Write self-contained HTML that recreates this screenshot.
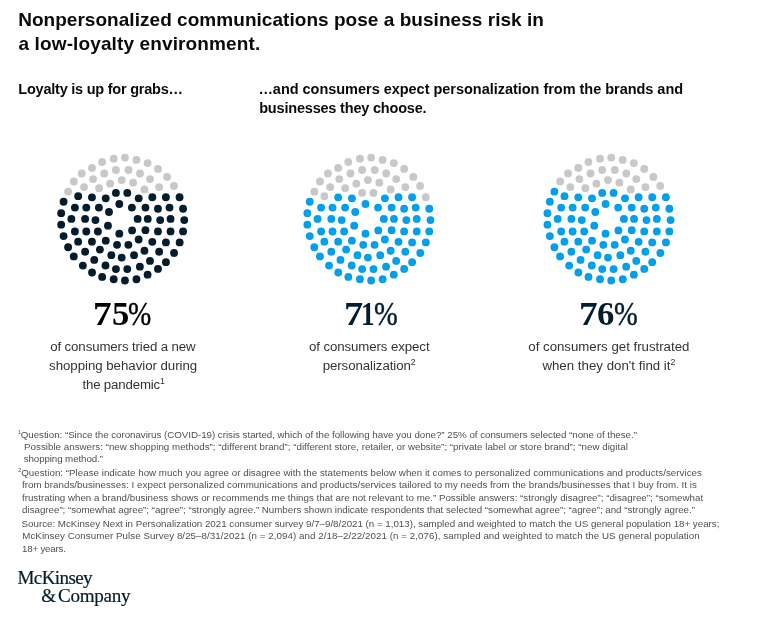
<!DOCTYPE html>
<html lang="en">
<head>
<meta charset="utf-8">
<title>Nonpersonalized communications pose a business risk in a low-loyalty environment.</title>
<style>
html,body{margin:0;padding:0;background:#fff;}
body{width:777px;height:627px;position:relative;overflow:hidden;font-family:"Liberation Sans",Arial,Helvetica,sans-serif;color:#000;}
.ln{position:absolute;white-space:nowrap;line-height:1;margin:0;}
.title{font-weight:bold;color:#0a0a0a;}
.sub{font-weight:bold;color:#0a0a0a;}
.dots{position:absolute;left:0;top:0;}
.num{font-family:"Liberation Serif","Times New Roman",Times,serif;font-weight:bold;color:#051c2c;}
.num.pc,.num .pc{font-weight:normal;-webkit-text-stroke:0.45px currentColor;}
.num .g{display:inline-block;transform-origin:0 0;}
.cap{color:#333;}
.ln sup{font-size:66%;vertical-align:baseline;position:relative;top:-0.6em;line-height:0;}
.fn{color:#505050;}
.fn sup{font-size:56%;top:-0.78em;}
.logo{font-family:"Liberation Serif","Times New Roman",Times,serif;color:#051c2c;-webkit-text-stroke:0.2px #051c2c;word-spacing:-2.5px;}
</style>
</head>
<body>
<svg class="dots" width="777" height="300" viewBox="0 0 777 300">
<g fill="#051c2c">
<circle cx="137.63" cy="218.92" r="3.92"/>
<circle cx="131.89" cy="207.60" r="3.92"/>
<circle cx="119.29" cy="204.01" r="3.92"/>
<circle cx="109.00" cy="211.99" r="3.92"/>
<circle cx="107.97" cy="225.70" r="3.92"/>
<circle cx="119.29" cy="233.68" r="3.92"/>
<circle cx="132.10" cy="230.40" r="3.92"/>
<circle cx="147.75" cy="218.95" r="3.92"/>
<circle cx="145.45" cy="207.60" r="3.92"/>
<circle cx="138.70" cy="198.30" r="3.92"/>
<circle cx="127.30" cy="192.90" r="3.92"/>
<circle cx="115.90" cy="192.90" r="3.92"/>
<circle cx="105.72" cy="198.30" r="3.92"/>
<circle cx="98.90" cy="207.60" r="3.92"/>
<circle cx="95.47" cy="220.10" r="3.92"/>
<circle cx="97.90" cy="231.52" r="3.92"/>
<circle cx="105.74" cy="240.65" r="3.92"/>
<circle cx="117.04" cy="244.80" r="3.92"/>
<circle cx="128.38" cy="244.80" r="3.92"/>
<circle cx="138.67" cy="239.50" r="3.92"/>
<circle cx="145.45" cy="230.17" r="3.92"/>
<circle cx="160.18" cy="220.12" r="3.92"/>
<circle cx="157.95" cy="208.72" r="3.92"/>
<circle cx="152.30" cy="197.24" r="3.92"/>
<circle cx="91.96" cy="197.30" r="3.92"/>
<circle cx="86.30" cy="207.60" r="3.92"/>
<circle cx="85.10" cy="218.92" r="3.92"/>
<circle cx="86.30" cy="231.52" r="3.92"/>
<circle cx="91.96" cy="241.64" r="3.92"/>
<circle cx="99.90" cy="249.57" r="3.92"/>
<circle cx="111.32" cy="255.19" r="3.92"/>
<circle cx="121.68" cy="257.58" r="3.92"/>
<circle cx="134.04" cy="255.19" r="3.92"/>
<circle cx="144.44" cy="250.72" r="3.92"/>
<circle cx="152.30" cy="241.84" r="3.92"/>
<circle cx="157.95" cy="231.44" r="3.92"/>
<circle cx="170.55" cy="218.92" r="3.92"/>
<circle cx="169.51" cy="207.60" r="3.92"/>
<circle cx="165.90" cy="197.24" r="3.92"/>
<circle cx="78.18" cy="196.15" r="3.92"/>
<circle cx="74.89" cy="207.60" r="3.92"/>
<circle cx="71.38" cy="218.92" r="3.92"/>
<circle cx="74.89" cy="231.52" r="3.92"/>
<circle cx="78.16" cy="241.64" r="3.92"/>
<circle cx="85.10" cy="251.76" r="3.92"/>
<circle cx="94.27" cy="259.89" r="3.92"/>
<circle cx="105.50" cy="265.50" r="3.92"/>
<circle cx="115.94" cy="269.06" r="3.92"/>
<circle cx="127.27" cy="269.06" r="3.92"/>
<circle cx="139.87" cy="266.67" r="3.92"/>
<circle cx="149.97" cy="260.93" r="3.92"/>
<circle cx="159.15" cy="251.76" r="3.92"/>
<circle cx="165.92" cy="242.40" r="3.92"/>
<circle cx="170.55" cy="231.44" r="3.92"/>
<circle cx="184.27" cy="220.12" r="3.92"/>
<circle cx="183.07" cy="208.72" r="3.92"/>
<circle cx="179.57" cy="197.24" r="3.92"/>
<circle cx="63.57" cy="201.78" r="3.92"/>
<circle cx="61.18" cy="213.18" r="3.92"/>
<circle cx="61.18" cy="224.67" r="3.92"/>
<circle cx="63.57" cy="236.07" r="3.92"/>
<circle cx="68.11" cy="247.21" r="3.92"/>
<circle cx="73.78" cy="256.38" r="3.92"/>
<circle cx="82.87" cy="265.56" r="3.92"/>
<circle cx="92.04" cy="272.49" r="3.92"/>
<circle cx="102.15" cy="276.95" r="3.92"/>
<circle cx="113.71" cy="279.27" r="3.92"/>
<circle cx="124.95" cy="280.47" r="3.92"/>
<circle cx="136.44" cy="279.27" r="3.92"/>
<circle cx="147.60" cy="274.65" r="3.92"/>
<circle cx="157.95" cy="268.90" r="3.92"/>
<circle cx="165.92" cy="262.13" r="3.92"/>
<circle cx="174.06" cy="252.96" r="3.92"/>
<circle cx="179.64" cy="242.40" r="3.92"/>
<circle cx="183.07" cy="231.44" r="3.92"/>
</g>
<g fill="#c8c8c8"><circle cx="144.45" cy="189.40" r="3.92"/><circle cx="133.10" cy="182.70" r="3.92"/><circle cx="121.70" cy="180.10" r="3.92"/><circle cx="110.10" cy="183.70" r="3.92"/><circle cx="99.05" cy="188.20" r="3.92"/><circle cx="159.10" cy="187.05" r="3.92"/><circle cx="150.00" cy="179.10" r="3.92"/><circle cx="140.00" cy="173.50" r="3.92"/><circle cx="128.50" cy="170.00" r="3.92"/><circle cx="115.90" cy="170.00" r="3.92"/><circle cx="104.20" cy="173.50" r="3.92"/><circle cx="93.10" cy="179.10" r="3.92"/><circle cx="84.06" cy="187.05" r="3.92"/><circle cx="173.90" cy="185.90" r="3.92"/><circle cx="167.10" cy="176.90" r="3.92"/><circle cx="157.95" cy="168.90" r="3.92"/><circle cx="147.60" cy="163.10" r="3.92"/><circle cx="136.40" cy="159.90" r="3.92"/><circle cx="124.95" cy="157.60" r="3.92"/><circle cx="113.70" cy="158.70" r="3.92"/><circle cx="102.10" cy="162.00" r="3.92"/><circle cx="91.96" cy="167.90" r="3.92"/><circle cx="81.75" cy="173.50" r="3.92"/><circle cx="73.80" cy="181.50" r="3.92"/><circle cx="68.10" cy="191.70" r="3.92"/></g>
<g fill="#059eeb">
<circle cx="383.83" cy="218.92" r="3.92"/>
<circle cx="378.09" cy="207.60" r="3.92"/>
<circle cx="365.49" cy="204.01" r="3.92"/>
<circle cx="355.20" cy="211.99" r="3.92"/>
<circle cx="354.17" cy="225.70" r="3.92"/>
<circle cx="365.49" cy="233.68" r="3.92"/>
<circle cx="378.30" cy="230.40" r="3.92"/>
<circle cx="393.95" cy="218.95" r="3.92"/>
<circle cx="391.65" cy="207.60" r="3.92"/>
<circle cx="384.90" cy="198.30" r="3.92"/>
<circle cx="351.92" cy="198.30" r="3.92"/>
<circle cx="345.10" cy="207.60" r="3.92"/>
<circle cx="341.67" cy="220.10" r="3.92"/>
<circle cx="344.10" cy="231.52" r="3.92"/>
<circle cx="351.94" cy="240.65" r="3.92"/>
<circle cx="363.24" cy="244.80" r="3.92"/>
<circle cx="374.58" cy="244.80" r="3.92"/>
<circle cx="384.87" cy="239.50" r="3.92"/>
<circle cx="391.65" cy="230.17" r="3.92"/>
<circle cx="406.38" cy="220.12" r="3.92"/>
<circle cx="404.15" cy="208.72" r="3.92"/>
<circle cx="398.50" cy="197.24" r="3.92"/>
<circle cx="338.16" cy="197.30" r="3.92"/>
<circle cx="332.50" cy="207.60" r="3.92"/>
<circle cx="331.30" cy="218.92" r="3.92"/>
<circle cx="332.50" cy="231.52" r="3.92"/>
<circle cx="338.16" cy="241.64" r="3.92"/>
<circle cx="346.10" cy="249.57" r="3.92"/>
<circle cx="357.52" cy="255.19" r="3.92"/>
<circle cx="367.88" cy="257.58" r="3.92"/>
<circle cx="380.24" cy="255.19" r="3.92"/>
<circle cx="390.64" cy="250.72" r="3.92"/>
<circle cx="398.50" cy="241.84" r="3.92"/>
<circle cx="404.15" cy="231.44" r="3.92"/>
<circle cx="416.75" cy="218.92" r="3.92"/>
<circle cx="415.71" cy="207.60" r="3.92"/>
<circle cx="412.10" cy="197.24" r="3.92"/>
<circle cx="321.09" cy="207.60" r="3.92"/>
<circle cx="317.58" cy="218.92" r="3.92"/>
<circle cx="321.09" cy="231.52" r="3.92"/>
<circle cx="324.36" cy="241.64" r="3.92"/>
<circle cx="331.30" cy="251.76" r="3.92"/>
<circle cx="340.47" cy="259.89" r="3.92"/>
<circle cx="351.70" cy="265.50" r="3.92"/>
<circle cx="362.14" cy="269.06" r="3.92"/>
<circle cx="373.47" cy="269.06" r="3.92"/>
<circle cx="386.07" cy="266.67" r="3.92"/>
<circle cx="396.17" cy="260.93" r="3.92"/>
<circle cx="405.35" cy="251.76" r="3.92"/>
<circle cx="412.12" cy="242.40" r="3.92"/>
<circle cx="416.75" cy="231.44" r="3.92"/>
<circle cx="430.47" cy="220.12" r="3.92"/>
<circle cx="429.27" cy="208.72" r="3.92"/>
<circle cx="309.77" cy="201.78" r="3.92"/>
<circle cx="307.38" cy="213.18" r="3.92"/>
<circle cx="307.38" cy="224.67" r="3.92"/>
<circle cx="309.77" cy="236.07" r="3.92"/>
<circle cx="314.31" cy="247.21" r="3.92"/>
<circle cx="319.98" cy="256.38" r="3.92"/>
<circle cx="329.07" cy="265.56" r="3.92"/>
<circle cx="338.24" cy="272.49" r="3.92"/>
<circle cx="348.35" cy="276.95" r="3.92"/>
<circle cx="359.91" cy="279.27" r="3.92"/>
<circle cx="371.15" cy="280.47" r="3.92"/>
<circle cx="382.64" cy="279.27" r="3.92"/>
<circle cx="393.80" cy="274.65" r="3.92"/>
<circle cx="404.15" cy="268.90" r="3.92"/>
<circle cx="412.12" cy="262.13" r="3.92"/>
<circle cx="420.26" cy="252.96" r="3.92"/>
<circle cx="425.84" cy="242.40" r="3.92"/>
<circle cx="429.27" cy="231.44" r="3.92"/>
</g>
<g fill="#c8c8c8"><circle cx="373.50" cy="192.90" r="3.92"/><circle cx="362.10" cy="192.90" r="3.92"/><circle cx="390.65" cy="189.40" r="3.92"/><circle cx="379.30" cy="182.70" r="3.92"/><circle cx="367.90" cy="180.10" r="3.92"/><circle cx="356.30" cy="183.70" r="3.92"/><circle cx="345.25" cy="188.20" r="3.92"/><circle cx="405.30" cy="187.05" r="3.92"/><circle cx="396.20" cy="179.10" r="3.92"/><circle cx="386.20" cy="173.50" r="3.92"/><circle cx="374.70" cy="170.00" r="3.92"/><circle cx="362.10" cy="170.00" r="3.92"/><circle cx="350.40" cy="173.50" r="3.92"/><circle cx="339.30" cy="179.10" r="3.92"/><circle cx="330.26" cy="187.05" r="3.92"/><circle cx="324.38" cy="196.15" r="3.92"/><circle cx="425.77" cy="197.24" r="3.92"/><circle cx="420.10" cy="185.90" r="3.92"/><circle cx="413.30" cy="176.90" r="3.92"/><circle cx="404.15" cy="168.90" r="3.92"/><circle cx="393.80" cy="163.10" r="3.92"/><circle cx="382.60" cy="159.90" r="3.92"/><circle cx="371.15" cy="157.60" r="3.92"/><circle cx="359.90" cy="158.70" r="3.92"/><circle cx="348.30" cy="162.00" r="3.92"/><circle cx="338.16" cy="167.90" r="3.92"/><circle cx="327.95" cy="173.50" r="3.92"/><circle cx="320.00" cy="181.50" r="3.92"/><circle cx="314.30" cy="191.70" r="3.92"/></g>
<g fill="#059eeb">
<circle cx="623.93" cy="218.92" r="3.92"/>
<circle cx="618.19" cy="207.60" r="3.92"/>
<circle cx="605.59" cy="204.01" r="3.92"/>
<circle cx="595.30" cy="211.99" r="3.92"/>
<circle cx="594.27" cy="225.70" r="3.92"/>
<circle cx="605.59" cy="233.68" r="3.92"/>
<circle cx="618.40" cy="230.40" r="3.92"/>
<circle cx="634.05" cy="218.95" r="3.92"/>
<circle cx="631.75" cy="207.60" r="3.92"/>
<circle cx="625.00" cy="198.30" r="3.92"/>
<circle cx="613.60" cy="192.90" r="3.92"/>
<circle cx="602.20" cy="192.90" r="3.92"/>
<circle cx="592.02" cy="198.30" r="3.92"/>
<circle cx="585.20" cy="207.60" r="3.92"/>
<circle cx="581.77" cy="220.10" r="3.92"/>
<circle cx="584.20" cy="231.52" r="3.92"/>
<circle cx="592.04" cy="240.65" r="3.92"/>
<circle cx="603.34" cy="244.80" r="3.92"/>
<circle cx="614.68" cy="244.80" r="3.92"/>
<circle cx="624.97" cy="239.50" r="3.92"/>
<circle cx="631.75" cy="230.17" r="3.92"/>
<circle cx="646.48" cy="220.12" r="3.92"/>
<circle cx="644.25" cy="208.72" r="3.92"/>
<circle cx="638.60" cy="197.24" r="3.92"/>
<circle cx="578.26" cy="197.30" r="3.92"/>
<circle cx="572.60" cy="207.60" r="3.92"/>
<circle cx="571.40" cy="218.92" r="3.92"/>
<circle cx="572.60" cy="231.52" r="3.92"/>
<circle cx="578.26" cy="241.64" r="3.92"/>
<circle cx="586.20" cy="249.57" r="3.92"/>
<circle cx="597.62" cy="255.19" r="3.92"/>
<circle cx="607.98" cy="257.58" r="3.92"/>
<circle cx="620.34" cy="255.19" r="3.92"/>
<circle cx="630.74" cy="250.72" r="3.92"/>
<circle cx="638.60" cy="241.84" r="3.92"/>
<circle cx="644.25" cy="231.44" r="3.92"/>
<circle cx="656.85" cy="218.92" r="3.92"/>
<circle cx="655.81" cy="207.60" r="3.92"/>
<circle cx="652.20" cy="197.24" r="3.92"/>
<circle cx="564.48" cy="196.15" r="3.92"/>
<circle cx="561.19" cy="207.60" r="3.92"/>
<circle cx="557.68" cy="218.92" r="3.92"/>
<circle cx="561.19" cy="231.52" r="3.92"/>
<circle cx="564.46" cy="241.64" r="3.92"/>
<circle cx="571.40" cy="251.76" r="3.92"/>
<circle cx="580.57" cy="259.89" r="3.92"/>
<circle cx="591.80" cy="265.50" r="3.92"/>
<circle cx="602.24" cy="269.06" r="3.92"/>
<circle cx="613.57" cy="269.06" r="3.92"/>
<circle cx="626.17" cy="266.67" r="3.92"/>
<circle cx="636.27" cy="260.93" r="3.92"/>
<circle cx="645.45" cy="251.76" r="3.92"/>
<circle cx="652.22" cy="242.40" r="3.92"/>
<circle cx="656.85" cy="231.44" r="3.92"/>
<circle cx="670.57" cy="220.12" r="3.92"/>
<circle cx="669.37" cy="208.72" r="3.92"/>
<circle cx="665.87" cy="197.24" r="3.92"/>
<circle cx="554.40" cy="191.70" r="3.92"/>
<circle cx="549.87" cy="201.78" r="3.92"/>
<circle cx="547.48" cy="213.18" r="3.92"/>
<circle cx="547.48" cy="224.67" r="3.92"/>
<circle cx="549.87" cy="236.07" r="3.92"/>
<circle cx="554.41" cy="247.21" r="3.92"/>
<circle cx="560.08" cy="256.38" r="3.92"/>
<circle cx="569.17" cy="265.56" r="3.92"/>
<circle cx="578.34" cy="272.49" r="3.92"/>
<circle cx="588.45" cy="276.95" r="3.92"/>
<circle cx="600.01" cy="279.27" r="3.92"/>
<circle cx="611.25" cy="280.47" r="3.92"/>
<circle cx="622.74" cy="279.27" r="3.92"/>
<circle cx="633.90" cy="274.65" r="3.92"/>
<circle cx="644.25" cy="268.90" r="3.92"/>
<circle cx="652.22" cy="262.13" r="3.92"/>
<circle cx="660.36" cy="252.96" r="3.92"/>
<circle cx="665.94" cy="242.40" r="3.92"/>
<circle cx="669.37" cy="231.44" r="3.92"/>
</g>
<g fill="#c8c8c8"><circle cx="630.75" cy="189.40" r="3.92"/><circle cx="619.40" cy="182.70" r="3.92"/><circle cx="608.00" cy="180.10" r="3.92"/><circle cx="596.40" cy="183.70" r="3.92"/><circle cx="585.35" cy="188.20" r="3.92"/><circle cx="645.40" cy="187.05" r="3.92"/><circle cx="636.30" cy="179.10" r="3.92"/><circle cx="626.30" cy="173.50" r="3.92"/><circle cx="614.80" cy="170.00" r="3.92"/><circle cx="602.20" cy="170.00" r="3.92"/><circle cx="590.50" cy="173.50" r="3.92"/><circle cx="579.40" cy="179.10" r="3.92"/><circle cx="570.36" cy="187.05" r="3.92"/><circle cx="660.20" cy="185.90" r="3.92"/><circle cx="653.40" cy="176.90" r="3.92"/><circle cx="644.25" cy="168.90" r="3.92"/><circle cx="633.90" cy="163.10" r="3.92"/><circle cx="622.70" cy="159.90" r="3.92"/><circle cx="611.25" cy="157.60" r="3.92"/><circle cx="600.00" cy="158.70" r="3.92"/><circle cx="588.40" cy="162.00" r="3.92"/><circle cx="578.26" cy="167.90" r="3.92"/><circle cx="568.05" cy="173.50" r="3.92"/><circle cx="560.10" cy="181.50" r="3.92"/></g>
</svg>
<div class="ln title" id="t1" style="left:18.13px;top:10.00px;font-size:19px;letter-spacing:0.040px;">Nonpersonalized communications pose a business risk in</div>
<div class="ln title" id="t2" style="left:18.52px;top:34.00px;font-size:19px;letter-spacing:0.124px;">a low-loyalty environment.</div>
<div class="ln sub" id="s1" style="left:18.33px;top:82.00px;font-size:14.5px;letter-spacing:-0.231px;">Loyalty is up for grabs…</div>
<div class="ln sub" id="s2" style="left:258.39px;top:82.00px;font-size:14.5px;letter-spacing:-0.027px;">…and consumers expect personalization from the brands and</div>
<div class="ln sub" id="s3" style="left:259.18px;top:101.00px;font-size:14.5px;letter-spacing:-0.191px;">businesses they choose.</div>
<div class="ln num" id="n1" style="left:93.00px;top:297.00px;font-size:33.3px;color:#000;"><span class="g" style="width:19.06px;transform:scaleX(1.1252);">7</span><span class="g" style="width:16.09px;transform:scaleX(1.0387);">5</span><span class="g pc" style="transform:scaleX(0.8371);">%</span></div>
<div class="ln num" id="n2" style="left:344.18px;top:297.00px;font-size:33.3px;"><span class="g" style="width:17.08px;transform:scaleX(1.1514);">7</span><span class="g" style="width:12.68px;transform:scaleX(0.8186);">1</span><span class="g pc" style="transform:scaleX(0.8550);">%</span></div>
<div class="ln num" id="n3" style="left:578.62px;top:297.00px;font-size:33.3px;"><span class="g" style="width:18.63px;transform:scaleX(1.1255);">7</span><span class="g" style="width:16.62px;transform:scaleX(1.0430);">6</span><span class="g pc" style="transform:scaleX(0.8555);">%</span></div>
<div class="ln cap" id="c11" style="left:50.21px;top:340.00px;font-size:13.25px;letter-spacing:-0.111px;">of consumers tried a new</div>
<div class="ln cap" id="c12" style="left:49.08px;top:359.00px;font-size:13.25px;letter-spacing:-0.029px;">shopping behavior during</div>
<div class="ln cap" id="c13" style="left:82.41px;top:378.00px;font-size:13.25px;letter-spacing:-0.164px;">the pandemic<sup>1</sup></div>
<div class="ln cap" id="c21" style="left:308.97px;top:340.00px;font-size:13.25px;letter-spacing:-0.092px;">of consumers expect</div>
<div class="ln cap" id="c22" style="left:322.67px;top:359.00px;font-size:13.25px;letter-spacing:-0.067px;">personalization<sup>2</sup></div>
<div class="ln cap" id="c31" style="left:528.32px;top:340.00px;font-size:13.25px;letter-spacing:-0.009px;">of consumers get frustrated</div>
<div class="ln cap" id="c32" style="left:542.40px;top:359.00px;font-size:13.25px;letter-spacing:0.017px;">when they don't find it<sup>2</sup></div>
<div class="ln fn" id="f11" style="left:17.73px;top:430.00px;font-size:9.75px;letter-spacing:-0.027px;"><sup>1</sup>Question: “Since the coronavirus (COVID-19) crisis started, which of the following have you done?” 25% of consumers selected “none of these.”</div>
<div class="ln fn" id="f12" style="left:24.04px;top:442.00px;font-size:9.75px;letter-spacing:0.018px;">Possible answers: “new shopping methods”; “different brand”; “different store, retailer, or website”; “private label or store brand”; “new digital</div>
<div class="ln fn" id="f13" style="left:23.71px;top:454.00px;font-size:9.75px;letter-spacing:-0.097px;">shopping method.”</div>
<div class="ln fn" id="f21" style="left:18.13px;top:468.00px;font-size:9.75px;letter-spacing:0.018px;"><sup>2</sup>Question: “Please indicate how much you agree or disagree with the statements below when it comes to personalized communications and products/services</div>
<div class="ln fn" id="f22" style="left:21.97px;top:480.00px;font-size:9.75px;letter-spacing:0.030px;">from brands/businesses: I expect personalized communications and products/services tailored to my needs from the brands/businesses that I buy from. It is</div>
<div class="ln fn" id="f23" style="left:21.97px;top:493.00px;font-size:9.75px;letter-spacing:-0.004px;">frustrating when a brand/business shows or recommends me things that are not relevant to me.” Possible answers: “strongly disagree”; “disagree”; “somewhat</div>
<div class="ln fn" id="f24" style="left:22.12px;top:505.00px;font-size:9.75px;letter-spacing:-0.016px;">disagree”; “somewhat agree”; “agree”; “strongly agree.” Numbers shown indicate respondents that selected “somewhat agree”; “agree”; and “strongly agree.”</div>
<div class="ln fn" id="f31" style="left:21.59px;top:519.00px;font-size:9.75px;letter-spacing:-0.009px;">Source: McKinsey Next in Personalization 2021 consumer survey 9/7–9/8/2021 (n = 1,013), sampled and weighted to match the US general population 18+ years;</div>
<div class="ln fn" id="f32" style="left:22.22px;top:531.00px;font-size:9.75px;letter-spacing:0.060px;">McKinsey Consumer Pulse Survey 8/25–8/31/2021 (n = 2,094) and 2/18–2/22/2021 (n = 2,076), sampled and weighted to match the US general population</div>
<div class="ln fn" id="f33" style="left:21.97px;top:544.00px;font-size:9.75px;letter-spacing:-0.210px;">18+ years.</div>
<div class="ln logo" id="g1" style="left:17.47px;top:568.00px;font-size:19.1px;letter-spacing:-0.636px;">McKinsey</div>
<div class="ln logo" id="g2" style="left:41.28px;top:586.00px;font-size:19.1px;letter-spacing:-0.247px;">&amp; Company</div>
</body>
</html>
